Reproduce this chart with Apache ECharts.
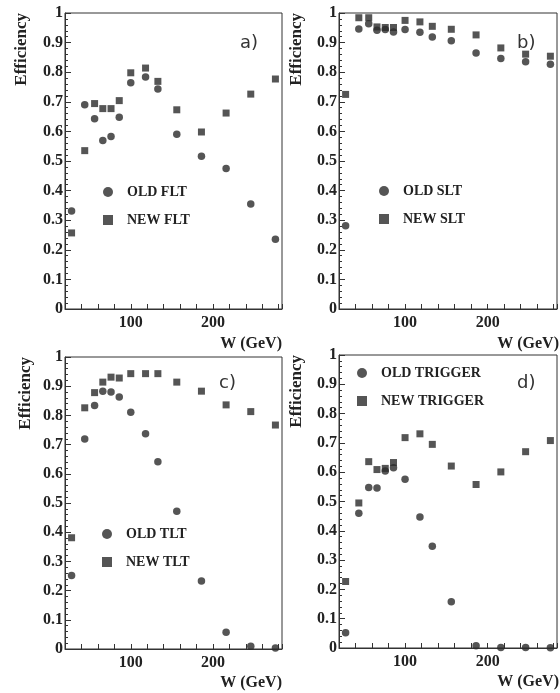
<!DOCTYPE html>
<html>
<head>
<meta charset="utf-8">
<script src="https://cdn.jsdelivr.net/npm/echarts@6/dist/echarts.min.js"></script>
<style>html,body{margin:0;padding:0;background:#fff}#c{width:560px;height:693px}</style>
</head>
<body>
<div id="c"></div>
<script>
// W bin centres (GeV), shared by all panels
const W = [28, 44, 56, 66, 76, 86, 100, 118, 133, 156, 186, 216, 246, 276];

// a) FLT
const oldFLT = [0.331, 0.690, 0.643, 0.569, 0.583, 0.648, 0.764, 0.784, 0.743, 0.590, 0.516, 0.475, 0.355, 0.236];
const newFLT = [0.257, 0.535, 0.694, 0.677, 0.677, 0.704, 0.798, 0.814, 0.769, 0.673, 0.598, 0.662, 0.726, 0.777];
// b) SLT
const oldSLT = [0.281, 0.946, 0.964, 0.942, 0.944, 0.936, 0.944, 0.935, 0.919, 0.906, 0.865, 0.846, 0.835, 0.827];
const newSLT = [0.725, 0.984, 0.984, 0.953, 0.951, 0.951, 0.975, 0.970, 0.955, 0.945, 0.926, 0.882, 0.861, 0.854];
// c) TLT
const oldTLT = [0.252, 0.719, 0.834, 0.883, 0.880, 0.863, 0.811, 0.737, 0.641, 0.472, 0.233, 0.057, 0.009, 0.003];
const newTLT = [0.381, 0.826, 0.878, 0.914, 0.931, 0.928, 0.943, 0.943, 0.943, 0.914, 0.883, 0.836, 0.813, 0.767];
// d) TRIGGER
const oldTRIG = [0.052, 0.460, 0.548, 0.546, 0.604, 0.615, 0.576, 0.447, 0.347, 0.158, 0.008, 0.002, 0.002, 0.001];
const newTRIG = [0.227, 0.495, 0.636, 0.609, 0.613, 0.633, 0.718, 0.731, 0.695, 0.621, 0.558, 0.601, 0.670, 0.708];

const xLabels = [100, 200];
const yName = 'Efficiency';
const xName = 'W (GeV)';

const panels = [
  {tag:'a)', oldName:'OLD FLT', newName:'NEW FLT', oldV:oldFLT, newV:newFLT,
   grid:{left:65, top:13, width:217, height:296}, legend:{left:98, top:180}, tagPos:[240,34], yNamePos:[22,13], xNamePos:[282,336]},
  {tag:'b)', oldName:'OLD SLT', newName:'NEW SLT', oldV:oldSLT, newV:newSLT,
   grid:{left:339, top:13, width:220, height:296}, legend:{left:374, top:179}, tagPos:[517,34], yNamePos:[297,13], xNamePos:[559,336]},
  {tag:'c)', oldName:'OLD TLT', newName:'NEW TLT', oldV:oldTLT, newV:newTLT,
   grid:{left:65, top:357, width:217, height:292}, legend:{left:97, top:522}, tagPos:[219,374], yNamePos:[26,357], xNamePos:[282,675]},
  {tag:'d)', oldName:'OLD TRIGGER', newName:'NEW TRIGGER', oldV:oldTRIG, newV:newTRIG,
   grid:{left:339, top:355, width:220, height:293}, legend:{left:352, top:361}, tagPos:[517,374], yNamePos:[297,355], xNamePos:[559,674]}
];

const ink = '#2a2a2a';
const serif = '"Liberation Serif", "DejaVu Serif", serif';

const option = {
  backgroundColor:'#fff',
  animation:false,
  grid:[], xAxis:[], yAxis:[], series:[], legend:[], graphic:[]
};

panels.forEach((p, i) => {
  option.grid.push(Object.assign({show:true, borderColor:'#333', borderWidth:1, backgroundColor:'transparent'}, p.grid));
  option.xAxis.push({
    type:'value', gridIndex:i, min:20, max:284, interval:20,
    axisLine:{show:true, lineStyle:{color:'#333', width:1}},
    axisTick:{show:true, inside:true, length:5, lineStyle:{color:'#333'}},
    splitLine:{show:false},
    axisLabel:{margin:6, color:'#222', fontFamily:serif, fontWeight:'bold', fontSize:16,
      formatter: v => xLabels.indexOf(v) >= 0 ? String(v) : ''}
  });
  option.yAxis.push({
    type:'value', gridIndex:i, min:0, max:1, interval:0.1,
    axisLine:{show:true, lineStyle:{color:'#333', width:1}},
    axisTick:{show:true, inside:true, length:6, lineStyle:{color:'#333'}},
    minorTick:{show:true, splitNumber:5, length:3, lineStyle:{color:'#333'}},
    splitLine:{show:false},
    axisLabel:{margin:2, color:'#222', fontFamily:serif, fontWeight:'bold', fontSize:16}
  });
  option.series.push({
    name:p.oldName, type:'scatter', xAxisIndex:i, yAxisIndex:i, symbol:'circle', symbolSize:7.5,
    itemStyle:{color:ink}, data:W.map((w,k)=>[w, p.oldV[k]])
  });
  option.series.push({
    name:p.newName, type:'scatter', xAxisIndex:i, yAxisIndex:i, symbol:'rect', symbolSize:7,
    itemStyle:{color:ink}, data:W.map((w,k)=>[w, p.newV[k]])
  });
  option.legend.push({
    left:p.legend.left, top:p.legend.top, orient:'vertical', itemGap:14,
    itemWidth:10, itemHeight:10, selectedMode:false,
    data:[{name:p.oldName, icon:'circle'}, {name:p.newName, icon:'rect'}],
    textStyle:{color:'#222', fontFamily:serif, fontWeight:'bold', fontSize:14, padding:[0,0,0,9]}
  });
  option.graphic.push({
    type:'text', left:p.tagPos[0], top:p.tagPos[1],
    style:{text:p.tag, fill:'#333', font:'18px "DejaVu Sans", sans-serif'}
  });
  option.graphic.push({
    type:'text', x:p.yNamePos[0], y:p.yNamePos[1], rotation:Math.PI/2,
    style:{text:yName, fill:'#222', font:'bold 17px ' + serif, align:'right', verticalAlign:'middle'}
  });
  option.graphic.push({
    type:'text', x:p.xNamePos[0], y:p.xNamePos[1],
    style:{text:xName, fill:'#222', font:'bold 16px ' + serif, align:'right', verticalAlign:'top'}
  });
});

const chart = echarts.init(document.getElementById('c'), null, {renderer:'canvas'});
chart.setOption(option);
</script>
</body>
</html>
